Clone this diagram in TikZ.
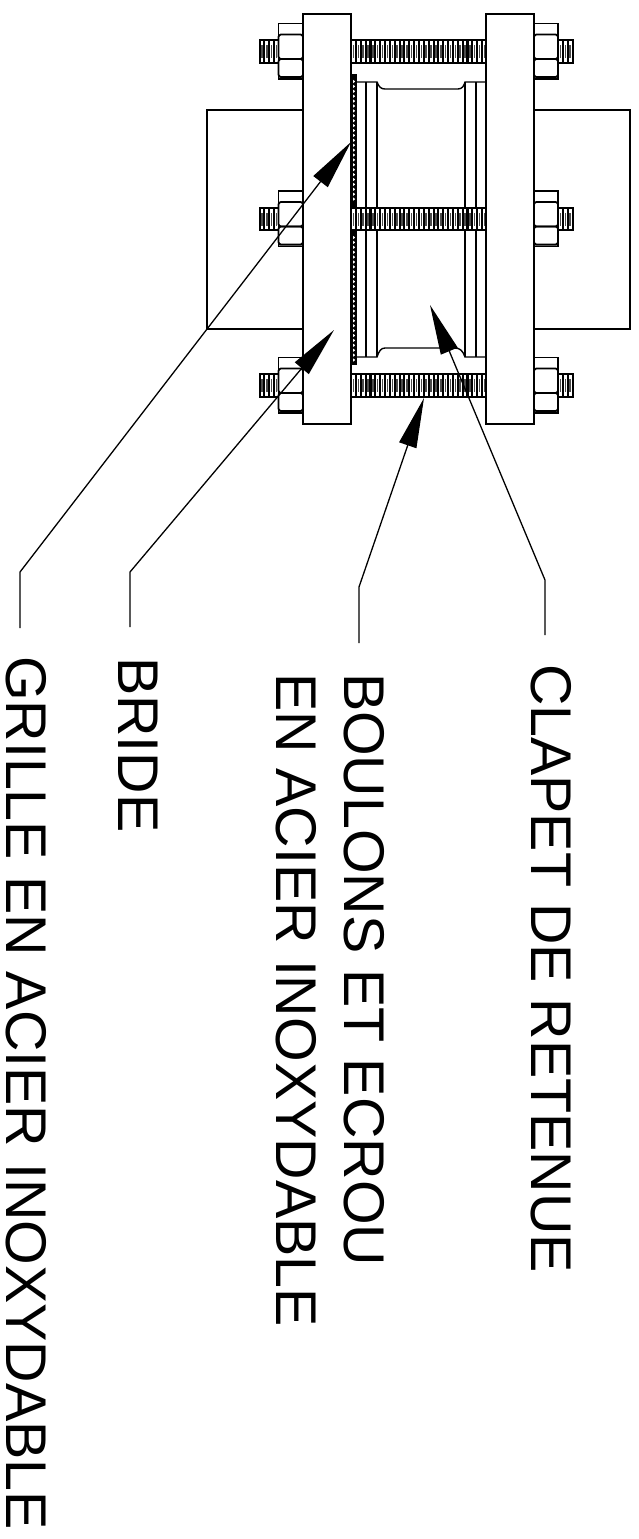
\documentclass[tikz,border=0pt]{standalone}
\usepackage{fontspec}
\setmainfont{Liberation Sans}
\usetikzlibrary{arrows.meta}
\tikzset{
  outline/.style={draw=black,line width=1.8pt},
  thin line/.style={draw=black,line width=1.4pt},
  leader/.style={draw=black,line width=1.3pt,-{Triangle[length=50pt,width=18pt]}},
  label text/.style={anchor=base west,rotate=-90,inner sep=0pt,outer sep=0pt,font=\fontsize{57.4}{58}\selectfont}
}
\newcommand{\threadrod}[3]{% x1, x2, center y
  \fill[black] (#1,#3-11.5) rectangle (#2,#3+11.5);
  \pgfmathsetmacro{\rodend}{#2-3.4}
  \pgfmathsetmacro{\rodnext}{#1+4.85}
  \foreach \t in {#1,\rodnext,...,\rodend}{
    \fill[white] (\t+1.1,#3-10.4) rectangle (\t+3.9,#3+10.4);
    \fill[black!70] (\t+1.7,#3-6.5) rectangle (\t+3.2,#3+6.5);
  }
  \draw[outline] (#1,#3-11.5) rectangle (#2,#3+11.5);
}
\newcommand{\hexnut}[3]{% flange x, outer x, center y
  \draw[outline,fill=white] (#1,#3-28) -- (#2,#3-28) -- (#2,#3+27.5) -- (#1,#3+27.5);
  \fill[black!50] (#1,#3+25.2) rectangle (#2,#3+27.5);
  \draw[outline,rounded corners=2.5pt] (#1,#3-17) rectangle (#2,#3+7.5);
  \draw[outline,rounded corners=2.5pt] (#1,#3+7.5) rectangle (#2,#3+25.5);
  \draw[outline] (#1,#3+27.5) -- (#2,#3+27.5) -- (#2,#3-28) -- (#1,#3-28);
}
\begin{document}
\begin{tikzpicture}[x=1pt,y=-1pt]
\useasboundingbox (0,0) rectangle (639,1539);
% pipes
\draw[thin line] (303,110) -- (207,110) -- (207,329) -- (303,329);
\draw[thin line] (534,110) -- (630,110) -- (630,329) -- (534,329);
% valve body
\foreach \xa/\ya/\yb in {366/82/207,366/231/357,377/82/207,377/231/357,465/82/207,465/231/357,476/82/207,476/231/357}
  \draw[thin line] (\xa,\ya) -- (\xa,\yb);
\draw[thin line] (356,82) -- (377,82) .. controls (379,87) and (381,89) .. (385,89) -- (458,89) .. controls (462,89) and (464,86) .. (465,82) -- (486,82);
\draw[thin line] (356,357) -- (377,357) .. controls (379,351) and (381,348) .. (385,348) -- (455,348) .. controls (460,348) and (463,351) .. (465,357) -- (486,357);
% grid
\foreach \ya/\yb in {75/207,231/364}{
  \fill[black] (352,\ya) rectangle (356,\yb);
  \pgfmathsetmacro{\gridend}{\yb-4}
  \pgfmathsetmacro{\gridnext}{\ya+6.5}
  \pgfmathsetmacro{\gridsecond}{\ya+11.4}
  \foreach \g in {\gridnext,\gridsecond,...,\gridend}
    \fill[white] (352.7,\g-1.9) -- (355.3,\g) -- (352.7,\g+1.9) -- cycle;
  \draw[thin line,line width=1.2pt] (352,\ya) rectangle (356,\yb);
}
% bolts
\foreach \c in {51.5,219,385.5}{
  \threadrod{351}{486}{\c}
  \threadrod{259.5}{278.5}{\c}
  \threadrod{558}{573}{\c}
  \hexnut{303}{278.5}{\c}
  \hexnut{534}{558}{\c}
}
% flanges
\draw[outline,fill=white] (303,14) rectangle (351,424);
\draw[outline,fill=white] (486,14) rectangle (534,424);
% labels
\node[label text] (grille) at (6.5,656) {GRILLE EN ACIER INOXYDABLE};
\node[label text] (bride) at (118,657) {BRIDE};
\node[label text] (enacier) at (276,673) {EN ACIER INOXYDABLE};
\node[label text] (boulons) at (344,673) {BOULONS ET ECROU};
\node[label text] (clapet) at (531,664) {CLAPET DE RETENUE};
% leaders
\coordinate (g0) at (20,628); \coordinate (g1) at (20,572); \coordinate (gt) at (351,142);
\coordinate (b0) at (130,627); \coordinate (b1) at (130,572); \coordinate (bt) at (334,330);
\coordinate (e0) at (359,643); \coordinate (e1) at (359,587); \coordinate (et) at (424,398);
\coordinate (c0) at (545,635); \coordinate (c1) at (545,580); \coordinate (ct) at (430,305);
\draw[leader] (g0) -- (g1) -- (gt);
\draw[leader] (b0) -- (b1) -- (bt);
\draw[leader] (e0) -- (e1) -- (et);
\draw[leader] (c0) -- (c1) -- (ct);
\end{tikzpicture}
\end{document}
